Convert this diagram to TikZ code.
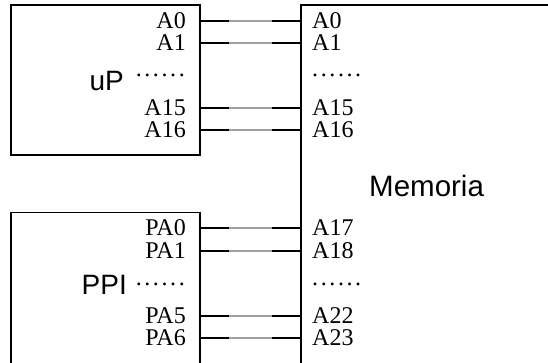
\documentclass[tikz,border=0pt]{standalone}
\usepackage{fontspec}
\setmainfont{Liberation Serif}
\setsansfont{Liberation Sans}
\usetikzlibrary{positioning, calc}
\definecolor{wiremid}{HTML}{a0a0a0}
\newcommand\pindots{.\kern2.6pt.\kern2.6pt.\kern2.6pt.\kern2.6pt.\kern2.6pt.}

\begin{document}
\begin{tikzpicture}[x=1pt, y=1pt,
  chip/.style={draw, line width=1.3pt, outer sep=0pt, inner sep=0pt},
  pinl/.style={anchor=east, inner sep=0pt, font=\fontsize{24}{24}\selectfont},
  pinr/.style={anchor=west, inner sep=0pt, font=\fontsize{24}{24}\selectfont},
  chipname/.style={inner sep=0pt, font=\sffamily\fontsize{28}{28}\selectfont},
  wire/.style={line width=1.3pt, postaction={draw=wiremid, shorten <=29pt, shorten >=29pt}}
]
  \useasboundingbox (0,0) rectangle (548,363);
  \clip (0,0) rectangle (548,363);

  % chips
  \node[chip, minimum width=189, minimum height=150] (up) at (105.5,283) {};
  \node[chip, minimum width=189, minimum height=170.6] (ppi) at (105.5,65) {};
  \node[chip, minimum width=259, minimum height=378] (mem) at (430.5,169) {};

  \node[chipname, anchor=base east] (uplbl) at (124,272) {uP};
  \node[chipname, anchor=base east] (ppilbl) at (127,68) {PPI};
  \node[chipname, anchor=base west, font=\sffamily\fontsize{29.5}{29.5}\selectfont] (memlbl) at (369,166) {Memoria};

  % uP pins
  \node[pinl] (uA0) at (186,342) {A0};
  \node[pinl] (uA1) at (186,320) {A1};
  \node[pinl, anchor=base east] (udots) at (185,286) {\pindots};
  \node[pinl] (uA15) at (186,255) {A15};
  \node[pinl] (uA16) at (186,233) {A16};

  % PPI pins
  \node[pinl] (pA0) at (186,135) {PA0};
  \node[pinl] (pA1) at (186,112) {PA1};
  \node[pinl, anchor=base east] (pdots) at (185,77.5) {\pindots};
  \node[pinl] (pA5) at (186,47) {PA5};
  \node[pinl] (pA6) at (186,25) {PA6};

  % memory pins
  \node[pinr] (mA0) at (312,342) {A0};
  \node[pinr] (mA1) at (312,320) {A1};
  \node[pinr, anchor=base west] (mdots1) at (312,286) {\pindots};
  \node[pinr] (mA15) at (312,255) {A15};
  \node[pinr] (mA16) at (312,233) {A16};
  \node[pinr] (mA17) at (312,135) {A17};
  \node[pinr] (mA18) at (312,112) {A18};
  \node[pinr, anchor=base west] (mdots2) at (312,77.5) {\pindots};
  \node[pinr] (mA22) at (312,47) {A22};
  \node[pinr] (mA23) at (312,25) {A23};

  % bus
  \draw[wire] (up.east |- uA0) -- (mem.west |- mA0);
  \draw[wire] (up.east |- uA1) -- (mem.west |- mA1);
  \draw[wire] (up.east |- uA15) -- (mem.west |- mA15);
  \draw[wire] (up.east |- uA16) -- (mem.west |- mA16);
  \draw[wire] (ppi.east |- pA0) -- (mem.west |- mA17);
  \draw[wire] (ppi.east |- pA1) -- (mem.west |- mA18);
  \draw[wire] (ppi.east |- pA5) -- (mem.west |- mA22);
  \draw[wire] (ppi.east |- pA6) -- (mem.west |- mA23);
\end{tikzpicture}
\end{document}
